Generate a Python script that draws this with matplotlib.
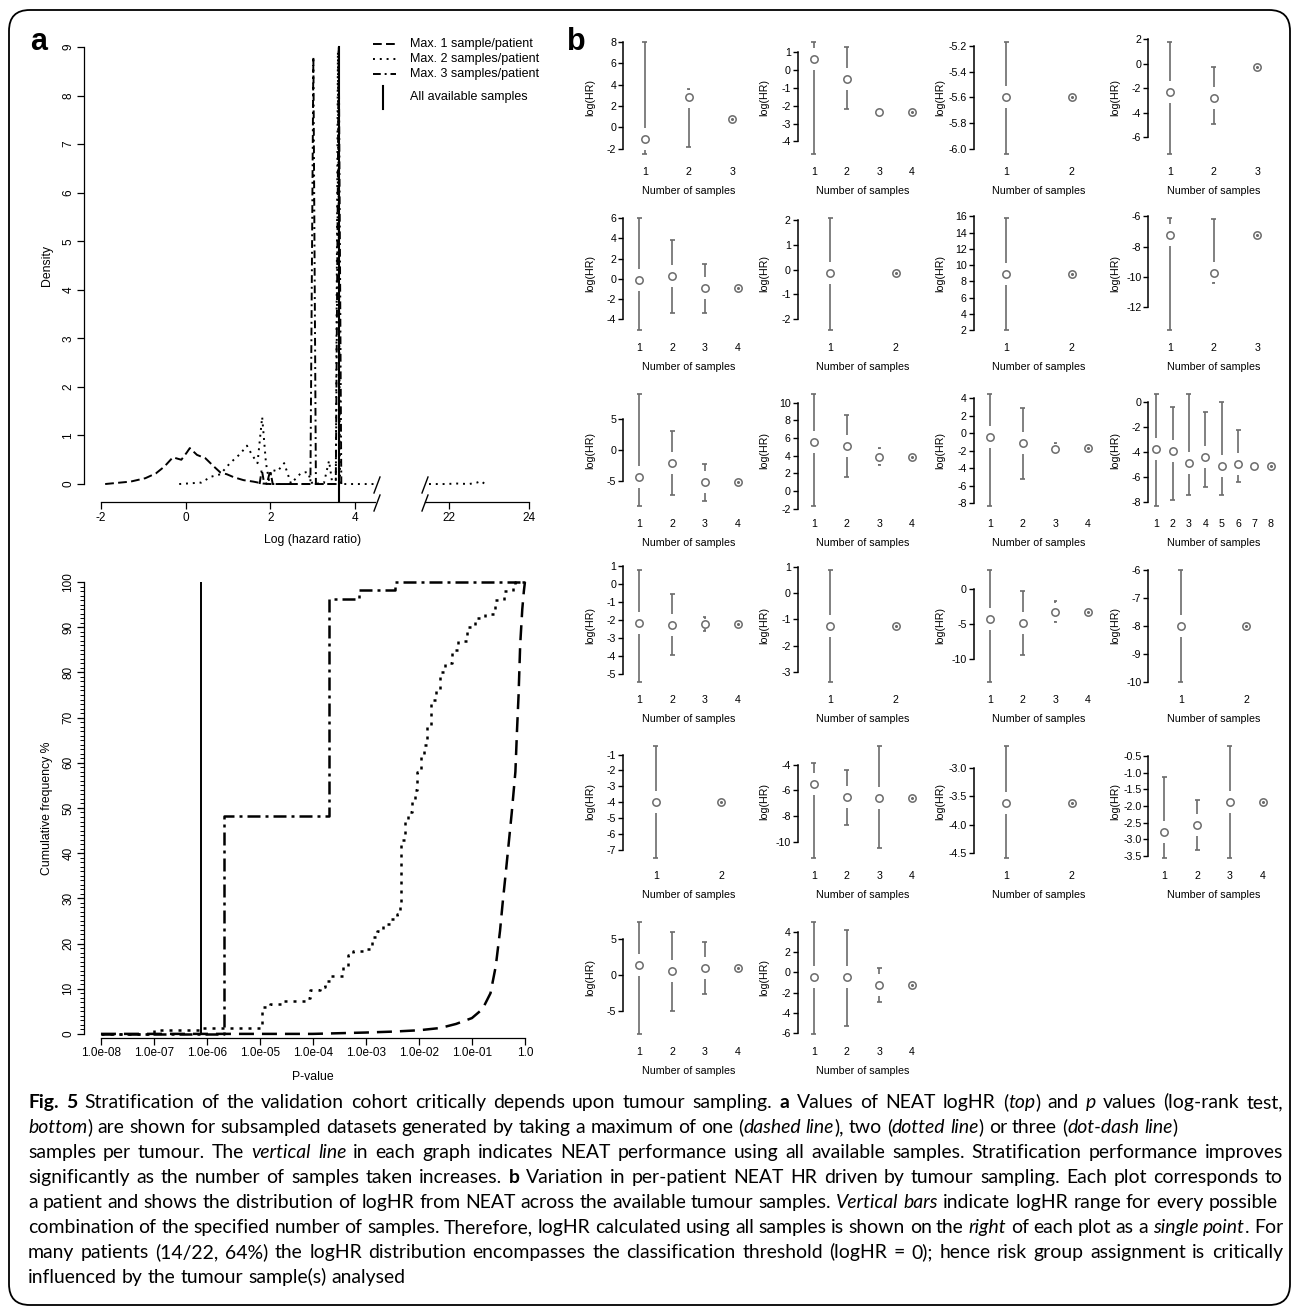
import numpy as np
import matplotlib
matplotlib.use("Agg")
import matplotlib.pyplot as plt
from matplotlib.lines import Line2D
from matplotlib.patches import FancyBboxPatch
from matplotlib.ticker import FixedLocator, NullLocator

W, H = 1295, 1309
plt.rcParams["font.family"] = ["Liberation Sans", "DejaVu Sans"]
plt.rcParams["axes.unicode_minus"] = False

# =============================================================================
# Data
# =============================================================================

# --- panel a, top: density of NEAT logHR --------------------------------------
dens1_x = [-1.9, -1.3, -0.95, -0.7, -0.5, -0.3, -0.1, 0.03, 0.1, 0.27, 0.47,
           0.67, 0.82, 0.98, 1.14, 1.37, 1.6, 1.83, 2.0, 2.6, 3.2, 3.6]
dens1_y = [0.0, 0.05, 0.12, 0.22, 0.36, 0.55, 0.5, 0.65, 0.74, 0.6, 0.53,
           0.36, 0.24, 0.2, 0.14, 0.08, 0.05, 0.01, 0.0, 0.0, 0.0, 0.0]

dens2_x = [-0.15, 0.37, 0.6, 0.82, 1.05, 1.29, 1.45, 1.57, 1.7, 1.81, 1.9,
           1.97, 2.05, 2.17, 2.33, 2.49, 2.72, 2.88, 3.0, 3.27, 3.39, 3.47,
           3.55, 3.6, 3.65, 4.45]
dens2_y = [0.0, 0.03, 0.15, 0.2, 0.43, 0.62, 0.79, 0.6, 0.43, 1.38, 0.43,
           0.08, 0.29, 0.26, 0.43, 0.01, 0.22, 0.25, 0.0, 0.02, 0.48, 0.0,
           0.0, 8.9, 0.0, 0.0]
dens2_far_x = [21.5, 21.9, 22.2, 22.5, 22.7, 22.8, 22.9]
dens2_far_y = [0.0, 0.0, 0.01, 0.0, 0.03, 0.06, 0.0]

dens3_x = [1.75, 1.8, 1.85, 1.92, 2.0, 2.06, 2.95, 3.02, 3.08, 3.55, 3.62, 3.68]
dens3_y = [0.0, 0.3, 0.05, 0.0, 0.28, 0.0, 0.0, 8.8, 0.0, 0.0, 9.0, 0.0]

loghr_all = 3.63

# --- panel a, bottom: cumulative frequency of log-rank p values (log10 p) -----
cum1_logp = [-8.0, -4.0, -3.0, -2.5, -2.0, -1.6, -1.3, -1.0, -0.8, -0.65,
             -0.55, -0.47, -0.42, -0.35, -0.25, -0.18, -0.15, -0.12, -0.09,
             -0.05, -0.02, 0.0]
cum1_pct = [0, 0, 0.3, 0.5, 0.8, 1.3, 2.2, 3.5, 5.5, 9, 15, 22.8, 29, 37,
            48.8, 58, 67, 75, 86, 94, 98, 100]

cum2_logp = [-8.0, -7.0, -6.11, -5.0, -4.97, -4.81, -4.57, -4.09, -4.05,
             -3.87, -3.77, -3.68, -3.43, -3.34, -3.24, -2.99, -2.89, -2.8,
             -2.67, -2.55, -2.42, -2.36, -2.33, -2.27, -2.2, -2.14, -2.08,
             -2.03, -1.97, -1.9, -1.84, -1.77, -1.67, -1.6, -1.5, -1.37,
             -1.26, -1.1, -0.95, -0.76, -0.57, -0.4, -0.23, -0.19, 0.0]
cum2_pct = [0, 0.9, 1.3, 2.0, 6.0, 6.6, 7.3, 8.0, 9.8, 10.3, 11.8, 12.9,
            14.7, 17.5, 18.4, 18.8, 21.4, 22.8, 24.3, 25.4, 26.5, 28.0, 43.0,
            47.0, 49.0, 52.0, 54.0, 58.0, 62.0, 64.0, 68.0, 74.0, 76.0, 80.0,
            82.0, 85.0, 87.0, 90.0, 92.0, 93.0, 96.0, 98.0, 99.5, 100, 100]

cum3_logp = [-8.0, -5.68, -3.70, -3.13, -2.45, 0.0]
cum3_pct = [0, 48.2, 96.3, 98.2, 100, 100]

logp_all = -6.11

p_ticks = [-8, -7, -6, -5, -4, -3, -2, -1, 0]
p_tick_labels = ["1.0e-08", "1.0e-07", "1.0e-06", "1.0e-05", "1.0e-04",
                 "1.0e-03", "1.0e-02", "1.0e-01", "1.0"]

# --- panel b: per patient logHR (mid, range) per number of samples -----------
pat_mid = [
    [-1.05, 2.8, 0.75],
    [0.63, -0.47, -2.35, -2.35],
    [-5.60, -5.60],
    [-2.35, -2.85, -0.27],
    [-0.07, 0.25, -0.9, -0.9],
    [-0.15, -0.15],
    [8.9, 8.9],
    [-7.2, -9.75, -7.2],
    [-4.3, -2.15, -5.25, -5.25],
    [5.6, 5.1, 3.9, 3.9],
    [-0.4, -1.15, -1.8, -1.65],
    [-3.73, -3.95, -4.9, -4.4, -5.1, -4.98, -5.1, -5.1],
    [-2.15, -2.27, -2.22, -2.22],
    [-1.25, -1.25],
    [-4.3, -4.86, -3.25, -3.25],
    [-8.0, -8.0],
    [-3.99, -3.99],
    [-5.52, -6.52, -6.62, -6.62],
    [-3.61, -3.61],
    [-2.8, -2.57, -1.88, -1.88],
    [1.38, 0.5, 1.0, 1.0],
    [-0.46, -0.46, -1.2, -1.2],
]
pat_lo = [
    [-2.5, -1.8, 0.75],
    [-4.71, -2.17, -2.4, -2.35],
    [-6.04, -5.60],
    [-7.4, -4.9, -0.27],
    [-5.05, -3.4, -3.35, -0.9],
    [-2.45, -0.15],
    [2.0, 8.9],
    [-13.5, -10.4, -7.2],
    [-9.05, -7.3, -8.2, -5.25],
    [-1.7, 1.6, 2.9, 3.9],
    [-8.3, -5.2, -1.9, -1.65],
    [-8.35, -7.9, -7.45, -6.85, -7.45, -6.45, -5.15, -5.1],
    [-5.45, -3.95, -2.6, -2.22],
    [-3.4, -1.25],
    [-13.3, -9.4, -4.75, -3.25],
    [-10.0, -8.0],
    [-7.5, -3.99],
    [-11.25, -8.7, -10.5, -6.62],
    [-4.59, -3.61],
    [-3.57, -3.34, -3.57, -1.88],
    [-8.15, -5.0, -2.65, 1.0],
    [-6.1, -5.3, -2.9, -1.2],
]
pat_hi = [
    [8.0, 3.6, 0.75],
    [1.59, 1.28, -2.3, -2.35],
    [-5.17, -5.60],
    [1.78, -0.3, -0.27],
    [6.0, 3.85, 1.5, -0.9],
    [2.1, -0.15],
    [15.8, 8.9],
    [-6.1, -6.15, -7.2],
    [9.0, 3.0, -2.35, -5.25],
    [11.0, 8.65, 4.9, 3.9],
    [4.5, 2.95, -1.05, -1.65],
    [0.67, -0.4, 0.67, -0.8, 0.05, -2.2, -5.05, -5.1],
    [0.8, -0.55, -1.83, -2.22],
    [0.9, -1.25],
    [2.7, -0.35, -1.75, -3.25],
    [-6.0, -8.0],
    [-0.46, -3.99],
    [-3.85, -4.39, -2.56, -6.62],
    [-2.61, -3.61],
    [-1.12, -1.82, -0.19, -1.88],
    [7.3, 5.9, 4.6, 1.0],
    [5.0, 4.2, 0.4, -1.2],
]
pat_ticks = [
    [-2, 0, 2, 4, 6, 8],
    [-4, -3, -2, -1, 0, 1],
    [-6.0, -5.8, -5.6, -5.4, -5.2],
    [-6, -4, -2, 0, 2],
    [-4, -2, 0, 2, 4, 6],
    [-2, -1, 0, 1, 2],
    [2, 4, 6, 8, 10, 12, 14, 16],
    [-12, -10, -8, -6],
    [-5, 0, 5],
    [-2, 0, 2, 4, 6, 8, 10],
    [-8, -6, -4, -2, 0, 2, 4],
    [-8, -6, -4, -2, 0],
    [-5, -4, -3, -2, -1, 0, 1],
    [-3, -2, -1, 0, 1],
    [-10, -5, 0],
    [-10, -9, -8, -7, -6],
    [-7, -6, -5, -4, -3, -2, -1],
    [-10, -8, -6, -4],
    [-4.5, -4.0, -3.5, -3.0],
    [-3.5, -3.0, -2.5, -2.0, -1.5, -1.0, -0.5],
    [-5, 0, 5],
    [-6, -4, -2, 0, 2, 4],
]

caption_lines = [
    [("Fig. 5", "b"), (" Stratification of the validation cohort critically depends upon tumour sampling. ", "n"),
     ("a", "b"), (" Values of NEAT logHR (", "n"), ("top", "i"), (") and ", "n"), ("p", "i"),
     (" values (log-rank test,", "n")],
    [("bottom", "i"), (") are shown for subsampled datasets generated by taking a maximum of one (", "n"),
     ("dashed line", "i"), ("), two (", "n"), ("dotted line", "i"), (") or three (", "n"),
     ("dot-dash line", "i"), (")", "n")],
    [("samples per tumour. The ", "n"), ("vertical line", "i"),
     (" in each graph indicates NEAT performance using all available samples. Stratification performance improves", "n")],
    [("significantly as the number of samples taken increases. ", "n"), ("b", "b"),
     (" Variation in per-patient NEAT HR driven by tumour sampling. Each plot corresponds to", "n")],
    [("a patient and shows the distribution of logHR from NEAT across the available tumour samples. ", "n"),
     ("Vertical bars", "i"), (" indicate logHR range for every possible", "n")],
    [("combination of the specified number of samples. Therefore, logHR calculated using all samples is shown on the ", "n"),
     ("right", "i"), (" of each plot as a ", "n"), ("single point", "i"), (". For", "n")],
    [("many patients (14/22, 64%) the logHR distribution encompasses the classification threshold (logHR = 0); hence risk group assignment is critically", "n")],
    [("influenced by the tumour sample(s) analysed", "n")],
]
caption_justify = [True, False, True, True, False, True, True, False]

# =============================================================================
# Helpers (pixel coordinates, origin top left)
# =============================================================================

fig = plt.figure(figsize=(W / 100, H / 100), dpi=100)


def fx(x):
    return x / W


def fy(y):
    return 1 - y / H


def add_px_axes(left, top, width, height):
    return fig.add_axes([left / W, 1 - (top + height) / H, width / W, height / H])


def fig_line(xs, ys, **kw):
    fig.add_artist(Line2D([fx(v) for v in xs], [fy(v) for v in ys],
                          transform=fig.transFigure, color="k", **kw))


# outer rounded frame
fig.add_artist(FancyBboxPatch((fx(9), fy(1305)), fx(1290) - fx(9), fy(10) - fy(1305),
                              boxstyle="round,pad=0,rounding_size=0.016",
                              transform=fig.transFigure, fill=False, lw=1.3, ec="black"))

fig.text(fx(30), fy(50), "a", fontsize=22, fontweight="bold", va="baseline")
fig.text(fx(567), fy(50), "b", fontsize=22, fontweight="bold", va="baseline")

A_TICK = 8.5
SPINE_W = 0.9

# =============================================================================
# Panel a, top: density
# =============================================================================
d_ylim = (-0.37, 9.37)
axd = add_px_axes(84, 29, 292, 473)
axd.plot(dens1_x, dens1_y, color="k", lw=1.4, ls=(0, (4.5, 2.2)))
axd.plot(dens2_x, dens2_y, color="k", lw=1.4, ls=(0, (1, 2.5)))
axd.plot(dens3_x, dens3_y, color="k", lw=1.4, ls=(0, (4, 2, 1, 2)))
axd.axvline(loghr_all, ymin=0, ymax=(9 - d_ylim[0]) / (d_ylim[1] - d_ylim[0]), color="k", lw=1.5)
axd.set_xlim(-2.4, 4.5)
axd.set_ylim(*d_ylim)
axd.spines[["top", "right"]].set_visible(False)
axd.spines["left"].set_bounds(0, 9)
axd.spines["bottom"].set_bounds(-2, 4.47)
for s in ("left", "bottom"):
    axd.spines[s].set_linewidth(SPINE_W)
axd.set_xticks([-2, 0, 2, 4])
axd.set_yticks(range(10))
axd.tick_params(direction="out", length=5, width=SPINE_W, labelsize=A_TICK, pad=2)
for lbl in axd.get_yticklabels():
    lbl.set_rotation(90)
    lbl.set_va("center")

axr = add_px_axes(425, 29, 110, 473)
axr.plot(dens2_far_x, dens2_far_y, color="k", lw=1.4, ls=(0, (1, 2.5)))
axr.set_xlim(21.4, 24.15)
axr.set_ylim(*d_ylim)
axr.spines[["top", "right", "left"]].set_visible(False)
axr.spines["bottom"].set_bounds(21.4, 24)
axr.spines["bottom"].set_linewidth(SPINE_W)
axr.set_xticks([22, 24])
axr.set_yticks([])
axr.tick_params(direction="out", length=5, width=SPINE_W, labelsize=A_TICK, pad=2)
axr.patch.set_alpha(0)

# axis break marks
for bx in (377, 425):
    for by in (485, 503):
        fig_line([bx - 3, bx + 3], [by + 8, by - 8], lw=1.0)

fig.text(fx(47), fy(265), "Density", fontsize=8.8, rotation=90, ha="center", va="center")
fig.text(fx(313), fy(540), "Log (hazard ratio)", fontsize=8.8, ha="center", va="center")

# legend
leg_entries = [("Max. 1 sample/patient", (0, (4.5, 2.2))),
               ("Max. 2 samples/patient", (0, (1, 2.5))),
               ("Max. 3 samples/patient", (0, (4, 2, 1, 2)))]
for i, (lab, ls) in enumerate(leg_entries):
    yy = 44 + 15 * i
    fig_line([373, 396], [yy, yy], lw=1.4, ls=ls)
    fig.text(fx(410), fy(yy), lab, fontsize=9, va="center", ha="left")
fig_line([383, 383], [86, 109], lw=1.5)
fig.text(fx(410), fy(97), "All available samples", fontsize=9, va="center", ha="left")

# =============================================================================
# Panel a, bottom: cumulative frequency of p values
# =============================================================================
axc = add_px_axes(84, 577.5, 451, 460)
axc.set_xscale("log")
axc.plot(10 ** np.array(cum1_logp), cum1_pct, color="k", lw=1.8, ls=(0, (6, 3.2)))
axc.step(10 ** np.array(cum2_logp), cum2_pct, where="post", color="k", lw=1.8, ls=(0, (1.2, 2.4)))
axc.step(10 ** np.array(cum3_logp), cum3_pct, where="post", color="k", lw=1.8, ls=(0, (5.2, 2, 1.2, 2)))
axc.vlines(10 ** logp_all, 0, 100, color="k", lw=1.4)
axc.set_xlim(10 ** -8.32, 10 ** 0.19)
axc.set_ylim(-0.8, 101)
axc.spines[["top", "right"]].set_visible(False)
axc.spines["left"].set_bounds(0, 100)
axc.spines["bottom"].set_bounds(10.0 ** p_ticks[0], 10.0 ** p_ticks[-1])
for s in ("left", "bottom"):
    axc.spines[s].set_linewidth(SPINE_W)
axc.xaxis.set_major_locator(FixedLocator(10.0 ** np.array(p_ticks)))
axc.xaxis.set_minor_locator(NullLocator())
axc.set_xticklabels(p_tick_labels)
axc.yaxis.set_major_locator(FixedLocator(np.arange(0, 101, 10)))
axc.yaxis.set_minor_locator(FixedLocator(np.arange(0, 101, 1)))
axc.tick_params(which="major", direction="out", length=5, width=SPINE_W, labelsize=A_TICK, pad=2)
axc.tick_params(which="minor", direction="out", length=2.6, width=0.7)
for lbl in axc.get_yticklabels():
    lbl.set_rotation(90)
    lbl.set_va("center")

fig.text(fx(47), fy(808), "Cumulative frequency %", fontsize=8.8, rotation=90, ha="center", va="center")
fig.text(fx(313), fy(1077), "P-value", fontsize=8.8, ha="center", va="center")

# =============================================================================
# Panel b: per patient logHR ranges
# =============================================================================
GRAY = "#6b6b6b"
B_FONT = 7.7
col_left = [623, 797.5, 973.5, 1148]
AX_W, AX_H = 131, 121
GAP_PX, CAP_PX = 11, 2.5

for k in range(len(pat_mid)):
    r, c = divmod(k, 4)
    top = 42 + 176 * r - 4.5
    ax = add_px_axes(col_left[c], top, AX_W, AX_H)
    mid = np.array(pat_mid[k])
    lo = np.array(pat_lo[k])
    hi = np.array(pat_hi[k])
    n = len(mid)
    xs = np.arange(1, n + 1)
    ymin, ymax = min(lo.min(), mid.min()), max(hi.max(), mid.max())
    pad = 0.04 * (ymax - ymin)
    ax.set_ylim(ymin - pad, ymax + pad)
    ax.set_xlim(0.5, n + 0.5)
    upp = (ymax - ymin + 2 * pad) / AX_H
    xpp = n / AX_W
    gap, cap = GAP_PX * upp, CAP_PX * xpp

    for x, m, l, h in zip(xs, mid, lo, hi):
        for end, sgn in ((h, 1), (l, -1)):
            dist = (end - m) * sgn
            if dist > gap:
                ax.vlines(x, m + sgn * gap, end, color=GRAY, lw=1.2)
                ax.hlines(end, x - cap, x + cap, color=GRAY, lw=1.2)
            elif dist > 3 * upp:
                ax.vlines(x, end - sgn * 1.5 * upp, end, color=GRAY, lw=1.2)
                ax.hlines(end, x - cap * 0.6, x + cap * 0.6, color=GRAY, lw=1.2)
    ax.plot(xs, mid, "o", mfc="none", mec=GRAY, mew=1.1, ms=5.3)
    ax.plot(xs[-1], mid[-1], "o", color=GRAY, ms=1.2)

    ticks = pat_ticks[k]
    integer = all(float(t).is_integer() for t in ticks)
    ax.set_yticks(ticks)
    ax.set_yticklabels([str(int(t)) if integer else f"{t:.1f}" for t in ticks])
    ax.set_xticks(xs)
    ax.set_xticklabels([str(v) for v in xs])
    for s in ("top", "right", "bottom"):
        ax.spines[s].set_visible(False)
    ax.spines["left"].set_bounds(ticks[0], ticks[-1])
    ax.spines["left"].set_linewidth(1.1)
    ax.tick_params(axis="y", direction="out", length=3.6, width=1.0, labelsize=B_FONT, pad=1.2)
    ax.tick_params(axis="x", length=0, labelsize=B_FONT, pad=6.3)
    ax.patch.set_alpha(0)
    ax.text(0.5, -32.5 / AX_H, "Number of samples", transform=ax.transAxes,
            fontsize=B_FONT, ha="center", va="center")
    ax.text(-33 / AX_W, 0.5, "log(HR)", transform=ax.transAxes, rotation=90,
            fontsize=B_FONT, ha="center", va="center")

# =============================================================================
# Caption (mixed bold/italic runs, justified)
# =============================================================================
CAP_FONT = ["Lato", "DejaVu Sans"]
renderer = fig.canvas.get_renderer()


def run_kw(st):
    return dict(fontweight="bold" if st == "b" else "normal",
                fontstyle="italic" if st == "i" else "normal")


def text_width(s, st, size):
    t = fig.text(0, 0, s, fontsize=size, family=CAP_FONT, **run_kw(st))
    w = t.get_window_extent(renderer).width
    t.remove()
    return w


def words_of(parts):
    words = [[]]
    for text, st in parts:
        for j, piece in enumerate(text.split(" ")):
            if j > 0:
                words.append([])
            if piece:
                words[-1].append((piece, st))
    return [w for w in words if w]


def natural_width(parts, size):
    ws = words_of(parts)
    sp = text_width("n n", "n", size) - text_width("nn", "n", size)
    return sum(text_width(p, st, size) for w in ws for p, st in w) + sp * (len(ws) - 1)


CAP_X0, CAP_X1, CAP_Y0, CAP_DY = 28, 1283, 1108, 25
size0 = 12.0
cap_size = size0 * 1240 / max(natural_width(caption_lines[i], size0) for i in (0, 4, 6))
space_w = text_width("n n", "n", cap_size) - text_width("nn", "n", cap_size)

for li, parts in enumerate(caption_lines):
    ws = words_of(parts)
    widths = [[text_width(p, st, cap_size) for p, st in w] for w in ws]
    total = sum(sum(w) for w in widths)
    sp = space_w
    if caption_justify[li] and len(ws) > 1:
        sp = (CAP_X1 - CAP_X0 - total) / (len(ws) - 1)
    x = CAP_X0
    y = CAP_Y0 + CAP_DY * li
    for w, wl in zip(ws, widths):
        for (p, st), pw in zip(w, wl):
            fig.text(fx(x), fy(y), p, fontsize=cap_size, family=CAP_FONT,
                     va="baseline", ha="left", **run_kw(st))
            x += pw
        x += sp

fig.savefig("out.png", dpi=100)
